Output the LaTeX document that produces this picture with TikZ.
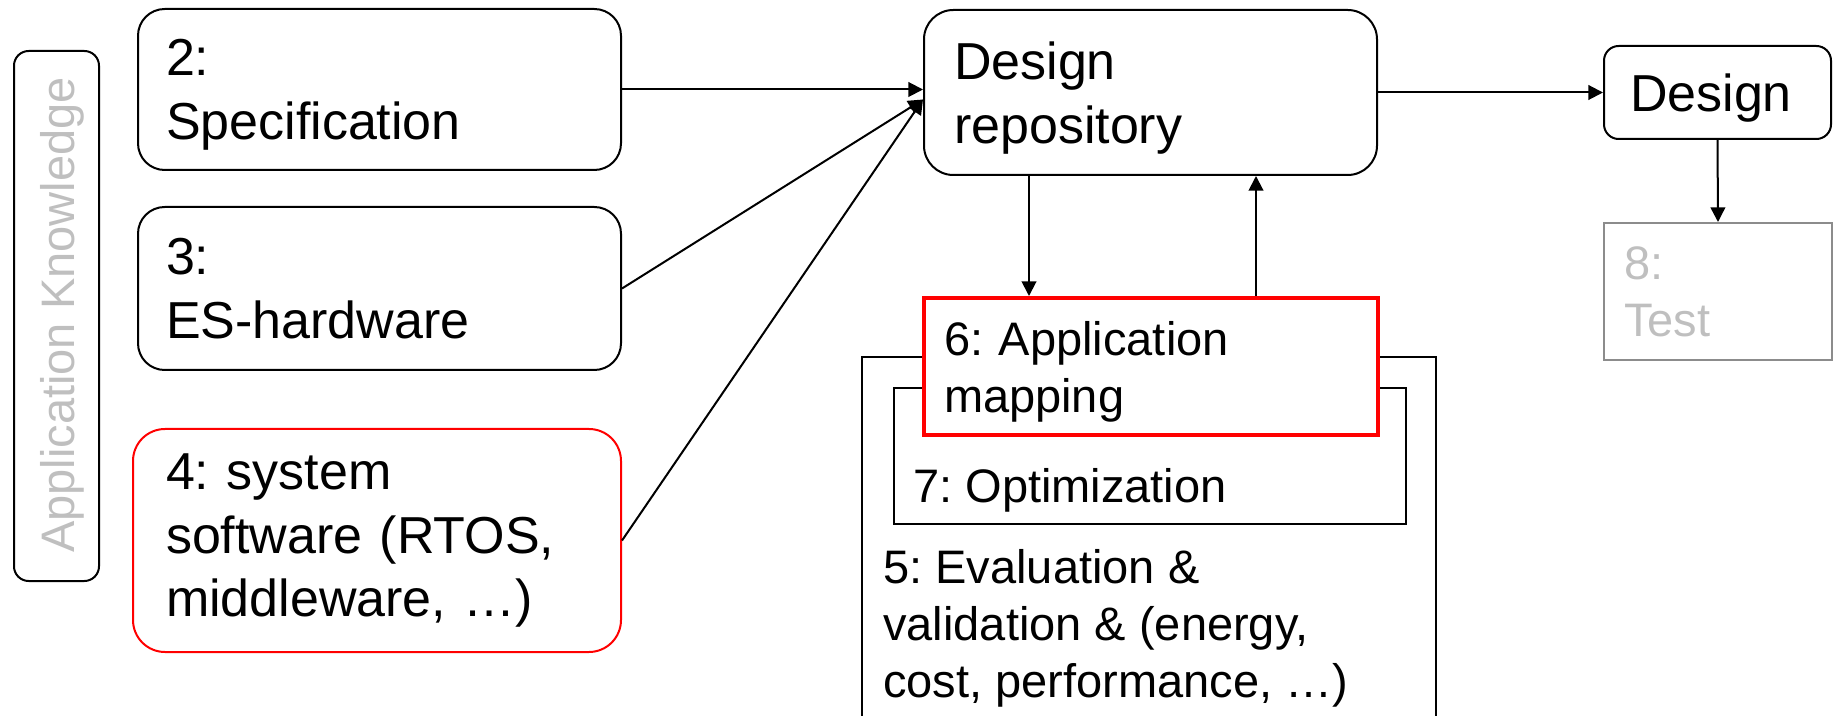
\documentclass[tikz,border=0pt]{standalone}
\usepackage{fontspec}
\setmainfont{Liberation Sans}
\usetikzlibrary{arrows.meta}
\usetikzlibrary{calc}
\frenchspacing

\newcommand{\bigtext}{\fontsize{39pt}{47.6pt}\selectfont}
\newcommand{\smalltext}{\fontsize{35.25pt}{42.75pt}\selectfont}
\definecolor{softgray}{gray}{0.75}
\definecolor{edgegray}{gray}{0.55}

\begin{document}
\begin{tikzpicture}[x=0.75pt,y=-0.75pt,
                    box/.style={draw,line width=1.5pt,anchor=north west,inner sep=0pt,align=left,font=\bigtext},
                    twolines/.style={text depth=47.6pt},
                    arr/.style={line width=1.5pt,-{Triangle[length=11pt,width=11pt]}}]
                    \useasboundingbox (0,0) rectangle (1835,716);

                    \node[box,rounded corners=11pt,minimum width=63.75pt,minimum height=397.5pt] (ak) at (13,50) {};
                    \node[rotate=90,text=softgray,inner sep=0pt,font=\smalltext] (aklabel) at (62,315) {Application Knowledge};

                    \node[box,twolines,rounded corners=20pt,minimum width=362.25pt,minimum height=120.75pt,text width=320.25pt] (spec) at (137,8) {2:\\Specification};
                    \node[box,twolines,rounded corners=20pt,minimum width=362.25pt,minimum height=122.25pt,text width=320.25pt] (hw) at (137,206) {3:\\ES-hardware};
                    \node[box,red,text=black,rounded corners=24pt,minimum width=366pt,minimum height=167.25pt,text width=316.5pt] (sw) at (132,428) {4: system\\software (RTOS,\\middleware, …)};

                    \node[box,twolines,rounded corners=22pt,minimum width=339.75pt,minimum height=123.75pt,text width=294.75pt] (repo) at (923,9) {Design\\repository};
                    \node[box,text depth=0pt,rounded corners=11pt,minimum width=170.25pt,minimum height=69.75pt,text width=131.25pt] (design) at (1603,45) {Design};
                    \node[box,draw=edgegray,text=softgray,font=\smalltext,text depth=42.75pt,minimum width=171pt,minimum height=102.75pt,text width=141pt] (test) at (1603,222) {8:\\Test};

                    \draw[line width=1.5pt] (862,716) -- (862,357) -- (1436,357) -- (1436,716);
                    \node[box,minimum width=384pt,minimum height=102pt] (opt) at (893,387) {};
                    \node[anchor=base west,inner sep=0pt,font=\smalltext] (optlabel) at (913,502) {7: Optimization};
                    \node[anchor=base west,inner sep=0pt,align=left,font=\smalltext] (evallabel) at (883,697) {5: Evaluation \&\\validation \& (energy,\\cost, performance, …)};
                    \node[box,draw=red,fill=white,line width=3pt,font=\smalltext,text depth=42.75pt,minimum width=340.5pt,minimum height=102.75pt,text width=310.5pt] (map) at (922,296) {6: Application\\mapping};

                    \coordinate (hub) at ($(repo.west)+(0,7)$);
                    \draw[arr] (spec.east) -- (repo.west |- spec.east);
                    \draw[arr] (hw.east) -- (hub);
                    \draw[arr] (sw.east) -- (hub);
                    \draw[arr] (repo.east) -- (design.west);
                    \draw[arr] (design.south) -- (test.north);

                    \coordinate (down) at (1029,175);
                    \coordinate (up) at (1256,176);
                    \draw[arr] (down) -- (down |- map.north);
                    \draw[arr] (map.north -| up) -- (up);
                \end{tikzpicture}
\end{document}
